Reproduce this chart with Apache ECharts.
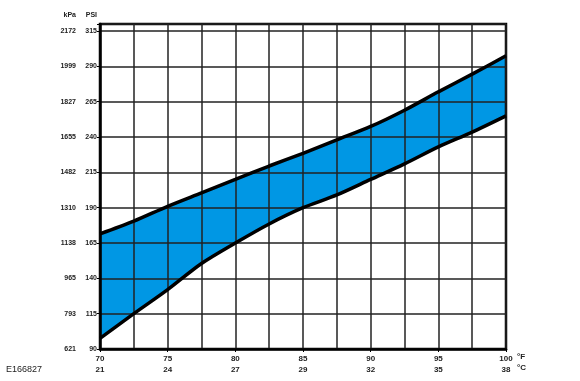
<!DOCTYPE html>
<html><head><meta charset="utf-8">
<script src="https://cdn.jsdelivr.net/npm/echarts@6/dist/echarts.min.js"></script>
<style>html,body{margin:0;padding:0;background:#fff}#c{width:580px;height:381px}</style>
</head><body><div id="c"></div>
<script>
// Temperature (°F) sample positions
const tempF = [70, 72.5, 75, 77.5, 80, 82.5, 85, 87.5, 90, 92.5, 95, 97.5, 100];
// Upper and lower pressure bounds (PSI)
const upperPSI = [171.5, 180.5, 191, 200.5, 210, 219.5, 228.5, 238, 247.5, 259, 272, 284.5, 297.5];
const lowerPSI = [97.5, 115, 132, 150.5, 165, 178.5, 190, 199, 210, 221, 233, 243.5, 255];
// Tick labels
const fLabels = {70:'70',75:'75',80:'80',85:'85',90:'90',95:'95',100:'100'};
const cLabels = {70:'21',75:'24',80:'27',85:'29',90:'32',95:'35',100:'38'};
const psiTicks = [90, 115, 140, 165, 190, 215, 240, 265, 290, 315];
const kpaLabels = ['621', '793', '965', '1138', '1310', '1482', '1655', '1827', '1999', '2172'];

const FONT = 'Liberation Sans, Arial, sans-serif';
const gridLine = {color: '#222', width: 1.5};
const isMajor = (i, v) => Number(v) % 5 === 0;
const SMOOTH = 0.3;

const chart = echarts.init(document.getElementById('c'), null, {renderer: 'canvas'});
chart.setOption({
  animation: false,
  grid: {left: 100, right: 74, top: 24, bottom: 32, show: true, borderColor: '#000', borderWidth: 2.5, backgroundColor: 'transparent', z: 2},
  xAxis: {
    type: 'category', boundaryGap: false, data: tempF.map(String), z: 2,
    axisLine: {show: true, lineStyle: {color: '#000', width: 2.5}},
    axisTick: {show: true, length: 3, interval: isMajor, lineStyle: {color: '#000', width: 1}},
    axisLabel: {
      margin: 4, fontFamily: FONT, fontSize: 8, fontWeight: 'bold', color: '#222', lineHeight: 11,
      interval: isMajor,
      formatter: v => (fLabels[v] || '') + '\n' + (cLabels[v] || '')
    },
    splitLine: {show: true, interval: 0, lineStyle: gridLine}
  },
  yAxis: [{
    type: 'value', min: 90, max: 320, interval: 25, position: 'left', z: 2,
    name: 'PSI', nameLocation: 'end', nameGap: 5,
    nameTextStyle: {fontFamily: FONT, fontSize: 7, fontWeight: 'bold', color: '#222', align: 'right', padding: [0, 3, 0, 0]},
    axisLine: {show: true, lineStyle: {color: '#000', width: 2.5}},
    axisTick: {show: true, length: 3, lineStyle: {color: '#000', width: 1}},
    axisLabel: {
      margin: 3, fontFamily: FONT, fontSize: 7, fontWeight: 'bold', color: '#222',
      formatter: v => psiTicks.indexOf(v) >= 0 ? String(v) : ''
    },
    splitLine: {show: true, lineStyle: gridLine}
  }, {
    type: 'value', min: 90, max: 320, interval: 25, position: 'left', offset: 20,
    name: 'kPa', nameLocation: 'end', nameGap: 5,
    nameTextStyle: {fontFamily: FONT, fontSize: 7, fontWeight: 'bold', color: '#222', align: 'right', padding: [0, 4, 0, 0]},
    axisLine: {show: false}, axisTick: {show: false}, splitLine: {show: false},
    axisLabel: {
      margin: 4, fontFamily: FONT, fontSize: 7, fontWeight: 'bold', color: '#222',
      formatter: v => { const i = psiTicks.indexOf(v); return i >= 0 ? kpaLabels[i] : ''; }
    }
  }],
  graphic: [
    {type: 'text', left: 517, top: 351, style: {text: '°F\n°C', font: 'bold 8px ' + FONT, fill: '#222', lineHeight: 11}},
    {type: 'text', left: 6, top: 365, style: {text: 'E166827', font: '9px ' + FONT, fill: '#222'}}
  ],
  series: [{
    type: 'line', stack: 'band', symbol: 'none', smooth: SMOOTH, z: 1,
    data: lowerPSI, lineStyle: {width: 0}
  }, {
    type: 'line', stack: 'band', symbol: 'none', smooth: SMOOTH, z: 1,
    data: upperPSI.map((u, i) => u - lowerPSI[i]),
    lineStyle: {width: 0},
    areaStyle: {color: '#0097e4', opacity: 1}
  }, {
    type: 'line', symbol: 'none', smooth: SMOOTH, z: 4,
    data: lowerPSI, lineStyle: {color: '#000', width: 3.5}
  }, {
    type: 'line', symbol: 'none', smooth: SMOOTH, z: 4,
    data: upperPSI, lineStyle: {color: '#000', width: 3.5}
  }]
});
</script></body></html>
